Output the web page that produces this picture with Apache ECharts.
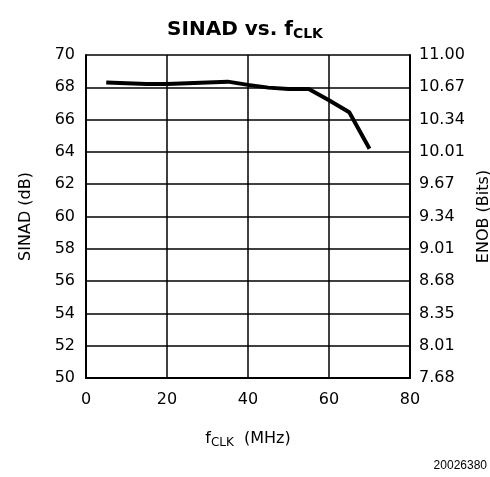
<!DOCTYPE html>
<html><head><meta charset="utf-8">
<script src="https://cdn.jsdelivr.net/npm/echarts@6/dist/echarts.min.js"></script>
<style>html,body{margin:0;padding:0;background:#fff}#c{width:490px;height:477px}</style>
</head><body><div id="c"></div>
<script>
const freqMHz = [5, 10, 15, 20, 25, 30, 35, 40, 45, 50, 55, 60, 65, 70];
const sinadDb = [68.3, 68.25, 68.2, 68.2, 68.25, 68.3, 68.35, 68.15, 67.98, 67.9, 67.9, 67.2, 66.45, 64.2];
const enobLabels = ['7.68','8.01','8.35','8.68','9.01','9.34','9.67','10.01','10.34','10.67','11.00'];

const FONT = 'DejaVu Sans';
const TFONT = 'DejaVu Sans';
const chart = echarts.init(document.getElementById('c'));
chart.setOption({
  animation: false,
  backgroundColor: '#fff',
  title: [{
    text: '{m|SINAD vs. f}{s|CLK}',
    left: 'center', top: 13,
    textStyle: { rich: {
      m: { fontFamily: TFONT, fontWeight: 'bold', fontSize: 20, color: '#000' },
      s: { fontFamily: TFONT, fontWeight: 'bold', fontSize: 14, color: '#000', padding: [9, 0, 0, 0] }
    }}
  }, {
    text: '20026380', right: 3, top: 460, padding: 0,
    textStyle: { fontFamily: 'Liberation Sans', fontSize: 12, fontWeight: 'normal', color: '#000' }
  }],
  grid: { left: 86, right: 80, top: 55, height: 323, containLabel: false, outerBoundsMode: 'none' },
  xAxis: {
    type: 'value', min: 0, max: 80, interval: 20,
    axisLine: { show: true, lineStyle: { color: '#000', width: 2 } },
    axisTick: { show: false },
    splitLine: { show: true, lineStyle: { color: '#000', width: 1.5 } },
    axisLabel: { fontFamily: FONT, fontSize: 16, color: '#000', margin: 14 },
    name: '{m|f}{s|CLK}{m|  (MHz)}', nameLocation: 'middle', nameGap: 50,
    nameTextStyle: { rich: {
      m: { fontFamily: FONT, fontSize: 16, color: '#000' },
      s: { fontFamily: FONT, fontSize: 12, color: '#000', padding: [9, 0, 0, 0] }
    }}
  },
  yAxis: [{
    type: 'value', min: 50, max: 70, interval: 2,
    axisLine: { show: true, lineStyle: { color: '#000', width: 2 } },
    axisTick: { show: false },
    splitLine: { show: true, lineStyle: { color: '#000', width: 1.5 } },
    axisLabel: { fontFamily: FONT, fontSize: 16, color: '#000', margin: 11 },
    name: 'SINAD (dB)', nameLocation: 'middle', nameGap: 52, nameRotate: 90,
    nameTextStyle: { fontFamily: FONT, fontSize: 16, color: '#000' }
  }, {
    type: 'value', min: 50, max: 70, interval: 2, position: 'right',
    axisLine: { show: true, lineStyle: { color: '#000', width: 2 } },
    axisTick: { show: false },
    splitLine: { show: false },
    axisLabel: { fontFamily: FONT, fontSize: 16, color: '#000', margin: 9,
      formatter: v => enobLabels[Math.round((v - 50) / 2)] },
    name: 'ENOB (Bits)', nameLocation: 'middle', nameGap: 59, nameRotate: 90,
    nameTextStyle: { fontFamily: FONT, fontSize: 16, color: '#000' }
  }],
  series: [{
    type: 'line', data: freqMHz.map((f, i) => [f, sinadDb[i]]),
    showSymbol: false, symbol: 'none',
    lineStyle: { color: '#000', width: 4 }
  }]
});
</script></body></html>
